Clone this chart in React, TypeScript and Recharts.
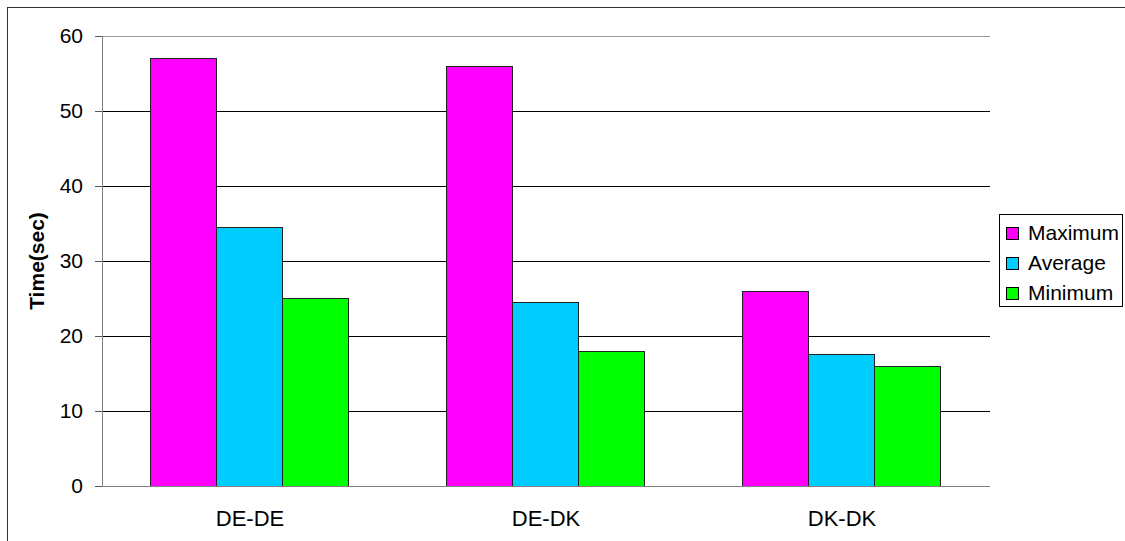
import React from 'react';
import { BarChart, Bar, XAxis, YAxis, CartesianGrid, ReferenceLine, Legend } from 'recharts';

const categories = ['DE-DE', 'DE-DK', 'DK-DK'];
const maximum = [57, 56, 26];
const average = [34.5, 24.5, 17.5];
const minimum = [25, 18, 16];
const yTicks = [0, 10, 20, 30, 40, 50, 60];
const boundaryTicks = [0, 1, 2, 3];

const series = [
  { key: 'Maximum', values: maximum, color: '#FF00FF' },
  { key: 'Average', values: average, color: '#00CCFF' },
  { key: 'Minimum', values: minimum, color: '#00FF00' },
];

const data = categories.map((name, i) => {
  const row: Record<string, string | number> = { name };
  series.forEach((s) => {
    row[s.key] = s.values[i];
  });
  return row;
});

const FONT = '"Liberation Sans", Arial, sans-serif';

const LegendBox = () => (
  <div
    style={{
      boxSizing: 'border-box',
      width: 124,
      height: 93,
      border: '1px solid #000',
      background: '#fff',
      paddingTop: 3,
      fontFamily: FONT,
      fontSize: 21,
      color: '#000',
    }}
  >
    {series.map((s) => (
      <div key={s.key} style={{ display: 'flex', alignItems: 'center', height: 30, lineHeight: '30px' }}>
        <div
          style={{
            boxSizing: 'border-box',
            width: 13,
            height: 13,
            marginLeft: 6,
            marginRight: 9,
            background: s.color,
            border: '1px solid #000',
          }}
        />
        <span>{s.key}</span>
      </div>
    ))}
  </div>
);

const YLabel = (props: any) => {
  const vb = props.viewBox || { x: 0, y: 0, width: 0, height: 0 };
  const cx = vb.x + 36;
  const cy = vb.y + vb.height / 2;
  return (
    <text
      x={cx}
      y={cy}
      transform={`rotate(-90, ${cx}, ${cy})`}
      textAnchor="middle"
      dominantBaseline="central"
      fontFamily={FONT}
      fontSize={21}
      fontWeight="bold"
      fill="#000"
    >
      Time(sec)
    </text>
  );
};

export default function App() {
  return (
    <div
      style={{
        position: 'absolute',
        left: 0,
        top: 0,
        width: 1125,
        height: 541,
        background: '#fff',
        overflow: 'hidden',
      }}
    >
      <div
        style={{
          position: 'absolute',
          left: 7,
          top: 7,
          width: 2000,
          height: 2000,
          borderTop: '1px solid #333',
          borderLeft: '1px solid #333',
        }}
      />
      <div style={{ position: 'absolute', left: 0, top: 0 }}>
        <BarChart
          width={1125}
          height={541}
          data={data}
          margin={{ top: 36, right: 135, left: 0, bottom: 0 }}
          barCategoryGap="16.5%"
          barGap={0}
          style={{ shapeRendering: 'crispEdges' }}
        >
          <CartesianGrid vertical={false} stroke="#000" strokeWidth={1} yAxisId="left" />
          <XAxis
            xAxisId="bounds"
            type="number"
            domain={[0, 3]}
            ticks={boundaryTicks}
            allowDataOverflow
            height={0}
            axisLine={false}
            tickSize={7}
            tickLine={{ stroke: '#333' }}
            tickFormatter={() => ''}
          />
          <XAxis
            xAxisId="cat"
            dataKey="name"
            type="category"
            height={55}
            tickLine={false}
            tickSize={0}
            tickMargin={24}
            axisLine={{ stroke: '#808080' }}
            tick={{ fill: '#000', fontSize: 22, fontFamily: FONT }}
            interval={0}
          />
          <YAxis
            yAxisId="left"
            domain={[0, 60]}
            ticks={yTicks}
            interval={0}
            width={102}
            tickSize={7}
            tickMargin={12}
            axisLine={{ stroke: '#808080' }}
            tickLine={{ stroke: '#555' }}
            tick={{ fill: '#000', fontSize: 21, fontFamily: FONT }}
            label={<YLabel />}
          />
          <YAxis
            yAxisId="right"
            orientation="right"
            domain={[0, 60]}
            width={0}
            tick={false}
            tickLine={false}
            axisLine={{ stroke: '#999' }}
          />
          <ReferenceLine yAxisId="left" xAxisId="cat" y={60} stroke="#999" />
          <Legend
            layout="horizontal"
            verticalAlign="middle"
            align="center"
            content={() => <LegendBox />}
            wrapperStyle={{ position: 'absolute', left: 999, top: 214, width: 124, height: 93 }}
          />
          {series.map((s) => (
            <Bar
              key={s.key}
              dataKey={s.key}
              xAxisId="cat"
              yAxisId="left"
              fill={s.color}
              stroke="#222"
              strokeWidth={1}
              isAnimationActive={false}
            />
          ))}
        </BarChart>
      </div>
    </div>
  );
}
